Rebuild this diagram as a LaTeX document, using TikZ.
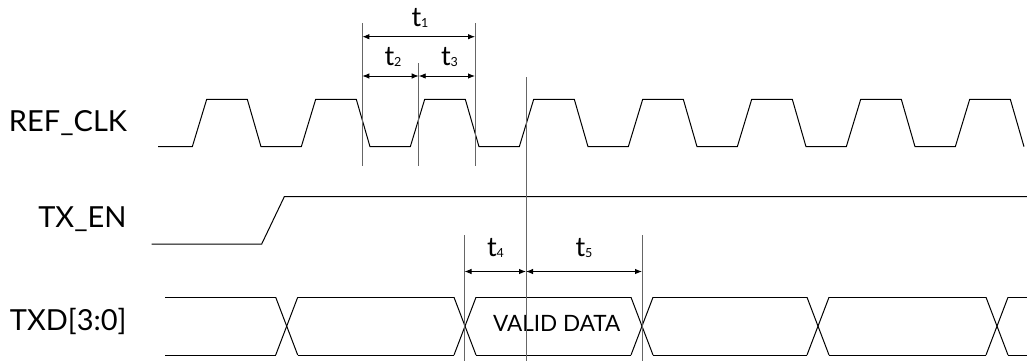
\documentclass[tikz,border=0pt]{standalone}
\usepackage{fontspec}
\setmainfont{Lato}
\usepackage{tikz}
\usetikzlibrary{arrows.meta}
\newcommand{\tlab}[1]{t\raisebox{-1.2pt}{\fontsize{12.5}{12.5}\selectfont #1}}

\begin{document}
\begin{tikzpicture}[scale=0.35146,
  wave/.style={black, line width=1pt},
  guide/.style={black!60, line width=0.8pt},
  dim/.style={black, line width=0.9pt, {Latex[length=7pt,width=5.5pt]}-{Latex[length=7pt,width=5.5pt]}},
  sig/.style={font=\fontsize{29}{29}\selectfont, anchor=base east},
  tl/.style={font=\fontsize{27}{27}\selectfont, anchor=base}]
\tikzstyle{every node}+=[inner sep=0pt]
\useasboundingbox (0,0) rectangle (102.7,-36.1);
\clip (0,0) rectangle (102.7,-36.1);
% signal names
\node [sig] (clk) at (12.73,-13.17) {REF\_CLK};
\node [sig] (txen) at (12.67,-22.77) {TX\_EN};
\node [sig] (txd) at (12.67,-33.0) {TXD[3:0]};
% REF_CLK
\draw [wave] (15.8,-14.67) \foreach \k in {0,...,7} { -- ({19.23+10.9*\k},-14.67) -- ({20.67+10.9*\k},-9.93) -- ({24.73+10.9*\k},-9.93) -- ({26.1+10.9*\k},-14.67) };
% TX_EN
\draw [wave] (15.17,-24.4) -- (26.17,-24.4) -- (28.43,-19.67) -- (104,-19.67);
% TXD[3:0]
\foreach \a/\b in {16.5/27.57, 29.77/45.4, 47.6/63.1, 65.3/80.7, 82.9/98.6, 100.8/104} {
  \draw [wave] (\a,-29.73) -- (\b,-29.73);
  \draw [wave] (\a,-35.5) -- (\b,-35.5);
}
\foreach \c in {28.67,46.5,64.2,81.8,99.7} {
  \draw [wave] ({\c-1.1},-29.73) -- ({\c+1.1},-35.5);
  \draw [wave] ({\c-1.1},-35.5) -- ({\c+1.1},-29.73);
}
\node [anchor=base, font=\fontsize{22.5}{22.5}\selectfont] (valid) at (55.67,-33.17) {VALID DATA};
% guide lines
\coordinate (g1a) at (36.23,-2.3);  \coordinate (g1b) at (36.23,-16.6);
\coordinate (g2a) at (41.87,-6.3);  \coordinate (g2b) at (41.87,-16.6);
\coordinate (g3a) at (47.5,-2.3);   \coordinate (g3b) at (47.5,-16.6);
\coordinate (g4a) at (52.6,-7.7);   \coordinate (g4b) at (52.6,-36.1);
\coordinate (g5a) at (46.45,-23.5); \coordinate (g5b) at (46.45,-36.1);
\coordinate (g6a) at (64.2,-23.5);  \coordinate (g6b) at (64.2,-36.1);
\foreach \g in {1,...,6} \draw [guide] (g\g a) -- (g\g b);
% timing arrows
\coordinate (d1l) at (36.23,-3.67); \coordinate (d1r) at (47.5,-3.67);
\coordinate (d2l) at (36.23,-7.6);  \coordinate (d2m) at (41.87,-7.6); \coordinate (d2r) at (47.5,-7.6);
\coordinate (d4l) at (46.45,-27.15); \coordinate (d4m) at (52.6,-27.15); \coordinate (d4r) at (64.2,-27.15);
\draw [dim] (d1l) -- (d1r);
\draw [dim] (d2l) -- (d2m);
\draw [dim] (d2m) -- (d2r);
\draw [dim] (d4l) -- (d4m);
\draw [dim] (d4m) -- (d4r);
\node [tl] (t1) at (42.0,-2.67) {\tlab{1}};
\node [tl] (t2) at (39.3,-6.55) {\tlab{2}};
\node [tl] (t3) at (44.95,-6.55) {\tlab{3}};
\node [tl] (t4) at (49.55,-25.67) {\tlab{4}};
\node [tl] (t5) at (58.4,-25.67) {\tlab{5}};
\end{tikzpicture}
\end{document}
